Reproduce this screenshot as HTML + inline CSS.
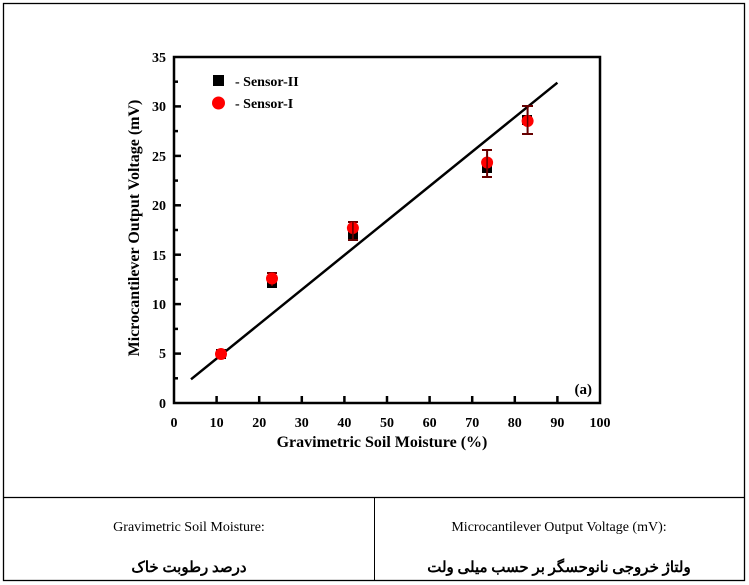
<!DOCTYPE html>
<html><head><meta charset="utf-8"><style>
html,body{margin:0;padding:0;background:#fff;width:749px;height:585px;overflow:hidden}
</style></head><body>
<svg width="749" height="585" viewBox="0 0 749 585" xmlns="http://www.w3.org/2000/svg" font-family="Liberation Serif, serif">
<rect x="3.5" y="3.5" width="741" height="577" fill="none" stroke="#000" stroke-width="1.3"/>
<line x1="3.5" y1="497.5" x2="744.5" y2="497.5" stroke="#000" stroke-width="1.3"/>
<line x1="374.5" y1="497.5" x2="374.5" y2="580.5" stroke="#000" stroke-width="1"/>
<text x="189" y="531" font-size="14" text-anchor="middle">Gravimetric Soil Moisture:</text>
<text x="559" y="531" font-size="14" text-anchor="middle">Microcantilever Output Voltage (mV):</text>
<text x="189" y="572" font-size="15" font-weight="bold" text-anchor="middle" font-family="Liberation Serif, 'Noto Sans CJK SC', serif" direction="rtl">درصد رطوبت خاک</text>
<text x="559" y="572" font-size="15" font-weight="bold" text-anchor="middle" font-family="Liberation Serif, 'Noto Sans CJK SC', serif" direction="rtl">ولتاژ خروجی نانوحسگر بر حسب میلی ولت</text>

<g stroke="#000" stroke-width="2.5" fill="none">
<rect x="174" y="57" width="426" height="346"/>
</g>
<g stroke="#000" stroke-width="2.5">
<line x1="216.6" y1="403" x2="216.6" y2="396"/><line x1="259.2" y1="403" x2="259.2" y2="396"/>
<line x1="301.8" y1="403" x2="301.8" y2="396"/><line x1="344.4" y1="403" x2="344.4" y2="396"/>
<line x1="387" y1="403" x2="387" y2="396"/><line x1="429.6" y1="403" x2="429.6" y2="396"/>
<line x1="472.2" y1="403" x2="472.2" y2="396"/><line x1="514.8" y1="403" x2="514.8" y2="396"/>
<line x1="557.4" y1="403" x2="557.4" y2="396"/>
<line x1="174" y1="353.6" x2="181" y2="353.6"/><line x1="174" y1="304.1" x2="181" y2="304.1"/>
<line x1="174" y1="254.7" x2="181" y2="254.7"/><line x1="174" y1="205.3" x2="181" y2="205.3"/>
<line x1="174" y1="155.9" x2="181" y2="155.9"/><line x1="174" y1="106.4" x2="181" y2="106.4"/>
<line x1="174" y1="378.3" x2="178" y2="378.3"/><line x1="174" y1="328.9" x2="178" y2="328.9"/>
<line x1="174" y1="279.4" x2="178" y2="279.4"/><line x1="174" y1="230" x2="178" y2="230"/>
<line x1="174" y1="180.6" x2="178" y2="180.6"/><line x1="174" y1="131.1" x2="178" y2="131.1"/>
<line x1="174" y1="81.7" x2="178" y2="81.7"/>
</g>
<g font-size="14" font-weight="bold" text-anchor="middle">
<text x="174" y="427">0</text><text x="216.6" y="427">10</text><text x="259.2" y="427">20</text>
<text x="301.8" y="427">30</text><text x="344.4" y="427">40</text><text x="387" y="427">50</text>
<text x="429.6" y="427">60</text><text x="472.2" y="427">70</text><text x="514.8" y="427">80</text>
<text x="557.4" y="427">90</text><text x="600" y="427">100</text>
</g>
<g font-size="14" font-weight="bold" text-anchor="end">
<text x="166" y="408">0</text><text x="166" y="358">5</text><text x="166" y="309">10</text>
<text x="166" y="260">15</text><text x="166" y="210">20</text><text x="166" y="161">25</text>
<text x="166" y="111">30</text><text x="166" y="62">35</text>
</g>
<text x="382" y="447" font-size="16" font-weight="bold" text-anchor="middle">Gravimetric Soil Moisture (%)</text>
<text transform="translate(139,228) rotate(-90)" font-size="16" font-weight="bold" text-anchor="middle">Microcantilever Output Voltage (mV)</text>
<text x="592" y="394" font-size="15" font-weight="bold" text-anchor="end">(a)</text>

<line x1="191" y1="379.3" x2="557.4" y2="82.7" stroke="#000" stroke-width="2.5"/>

<rect x="213" y="75" width="11" height="11" fill="#000"/>
<text x="235" y="86" font-size="14" font-weight="bold">- Sensor-II</text>
<circle cx="218.5" cy="103" r="6.5" fill="#f00"/>
<text x="235" y="108" font-size="14" font-weight="bold">- Sensor-I</text>

<g fill="#000">
<rect x="216" y="349" width="10" height="10"/>
<rect x="267" y="278" width="10" height="10"/>
<rect x="348" y="230" width="10" height="10"/>
<rect x="482" y="163" width="10" height="10"/>
<rect x="522" y="115" width="10" height="10"/>
</g>
<g stroke="#600" stroke-width="2">
<line x1="352.9" y1="222" x2="352.9" y2="240"/><line x1="348" y1="222" x2="358" y2="222"/><line x1="348" y1="240" x2="358" y2="240"/>
<line x1="487.1" y1="150" x2="487.1" y2="177"/><line x1="482" y1="150" x2="492" y2="150"/><line x1="482" y1="177" x2="492" y2="177"/>
<line x1="527.6" y1="106" x2="527.6" y2="134"/><line x1="522" y1="106" x2="533" y2="106"/><line x1="522" y1="134" x2="533" y2="134"/>
<line x1="272" y1="273" x2="272" y2="286"/><line x1="267" y1="273" x2="277" y2="273"/>
</g>
<g fill="#f00">
<circle cx="221" cy="354" r="6"/>
<circle cx="272" cy="278.5" r="6"/>
<circle cx="352.9" cy="228" r="6"/>
<circle cx="487.1" cy="162.5" r="6"/>
<circle cx="527.6" cy="121" r="6"/>
</g>
<g stroke="#600" stroke-width="1.5">
<line x1="352.9" y1="222" x2="352.9" y2="236"/>
<line x1="487.1" y1="154" x2="487.1" y2="170"/>
<line x1="527.6" y1="110" x2="527.6" y2="130"/>
</g>
</svg>
</body></html>
